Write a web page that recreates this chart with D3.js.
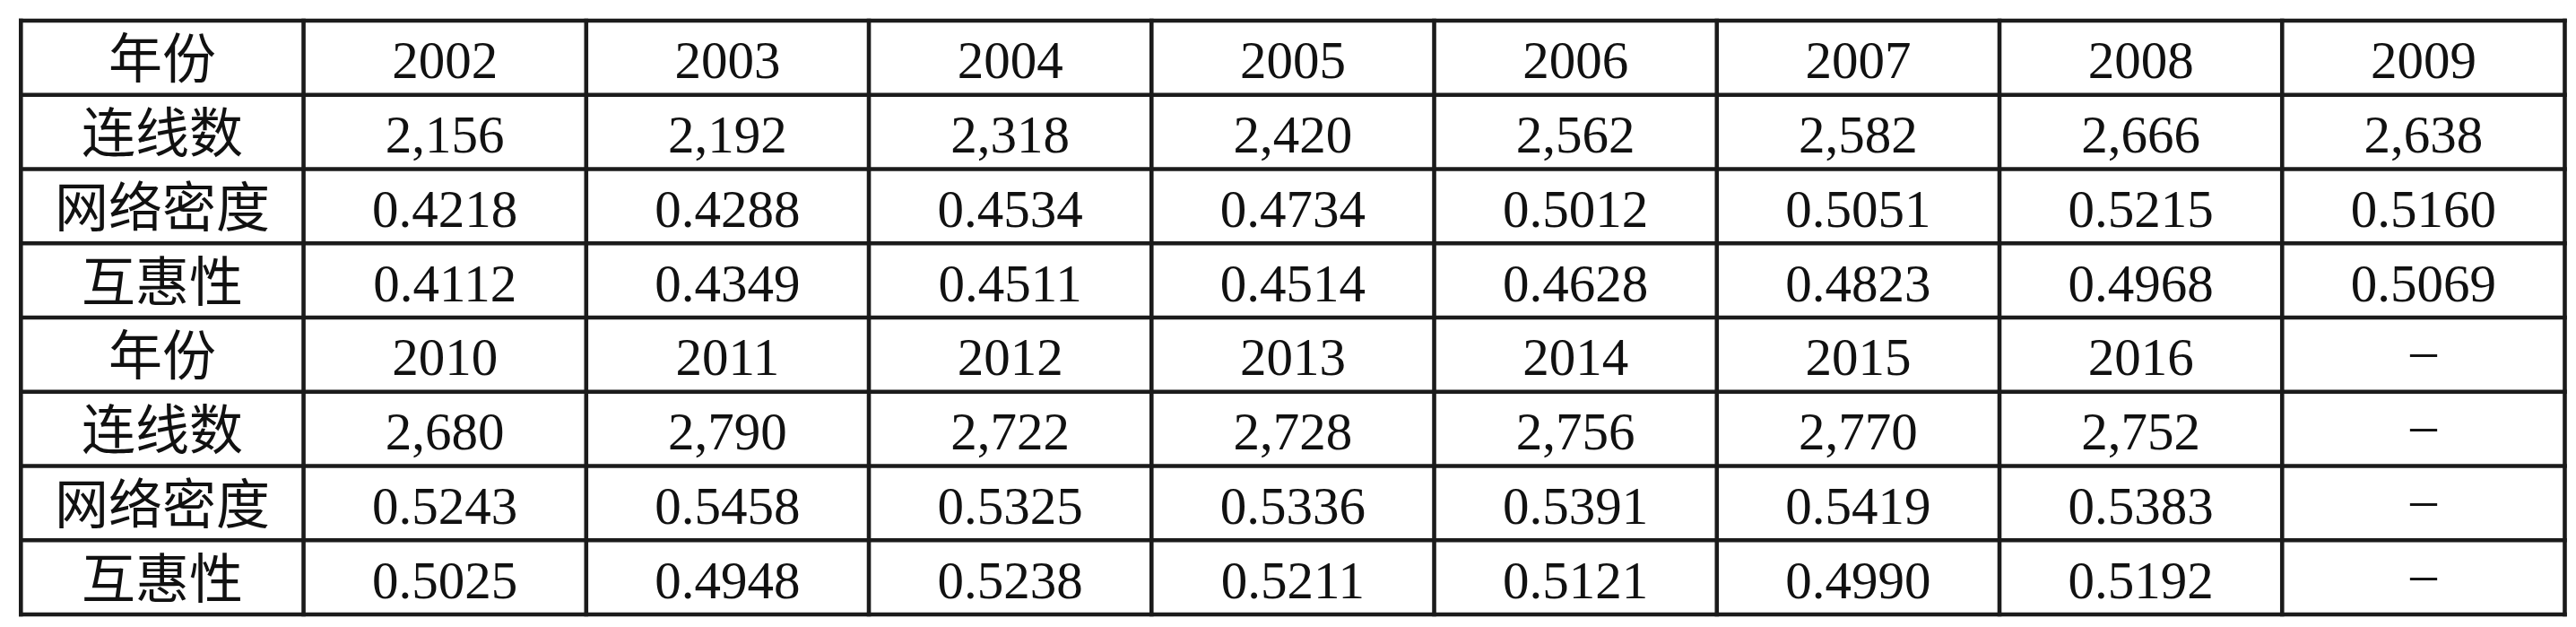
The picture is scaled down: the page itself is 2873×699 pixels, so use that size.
<!DOCTYPE html>
<html>
<head>
<meta charset="utf-8">
<script src="https://cdn.jsdelivr.net/npm/d3@7"></script>
<style>
  html, body { margin: 0; padding: 0; background: #fff; }
  svg { display: block; }
</style>
</head>
<body>
<svg id="chart" width="2873" height="699"></svg>
<script>
// ---- Data ----
const rowLabels = ["年份", "连线数", "网络密度", "互惠性"];
const years = [2002, 2003, 2004, 2005, 2006, 2007, 2008, 2009, 2010, 2011, 2012, 2013, 2014, 2015, 2016];
const links = [2156, 2192, 2318, 2420, 2562, 2582, 2666, 2638, 2680, 2790, 2722, 2728, 2756, 2770, 2752];
const density = [0.4218, 0.4288, 0.4534, 0.4734, 0.5012, 0.5051, 0.5215, 0.5160, 0.5243, 0.5458, 0.5325, 0.5336, 0.5391, 0.5419, 0.5383];
const reciprocity = [0.4112, 0.4349, 0.4511, 0.4514, 0.4628, 0.4823, 0.4968, 0.5069, 0.5025, 0.4948, 0.5238, 0.5211, 0.5121, 0.4990, 0.5192];
const perBlock = 8;
const missingMark = "–";

(function () {
// ---- Build table ----
const fmtLinks = d3.format(",");
const fmtRatio = d3.format(".4f");
const series = [
  years.map(String),
  links.map(fmtLinks),
  density.map(fmtRatio),
  reciprocity.map(fmtRatio)
];
const nBlocks = Math.ceil(years.length / perBlock);
const rows = [];
for (let b = 0; b < nBlocks; b++) {
  series.forEach((s, si) => {
    const cells = [];
    for (let k = 0; k < perBlock; k++) {
      const idx = b * perBlock + k;
      cells.push(idx < s.length ? s[idx] : missingMark);
    }
    rows.push({ label: rowLabels[si], cells });
  });
}

const svg = d3.select("#chart");
const xL = 23.3, xR = 2860.5, yT = 23, yB = 685;
const nCols = perBlock + 1;

const x = d3.scaleBand().domain(d3.range(nCols)).range([xL, xR]).padding(0);
const y = d3.scaleBand().domain(d3.range(rows.length)).range([yT, yB]).padding(0);

const lineColor = "#1b1b1b";
const lw = 4.6;

const g = svg.append("g");

const rowG = g.selectAll("g.row").data(rows).join("g")
  .attr("class", "row")
  .attr("transform", (d, i) => `translate(0,${y(i) + y.bandwidth() / 2})`);

rowG.append("text")
  .attr("x", x(0) + x.bandwidth() / 2)
  .attr("y", 23)
  .attr("text-anchor", "middle")
  .attr("font-family", "'Noto Sans CJK SC', sans-serif")
  .attr("font-size", 60)
  .attr("font-weight", 400)
  .attr("fill", "#111")
  .text(d => d.label);

rowG.selectAll("text.val").data(d => d.cells).join("text")
  .attr("class", "val")
  .attr("x", (d, i) => x(i + 1) + x.bandwidth() / 2)
  .attr("y", d => d === missingMark ? 15 : 23)
  .attr("text-anchor", "middle")
  .attr("font-family", "'Liberation Serif', 'DejaVu Serif', serif")
  .attr("font-size", 59)
  .attr("fill", "#111")
  .text(d => d);

const hY = d3.range(rows.length + 1).map(i => i < rows.length ? y(i) : yB);
const vX = d3.range(nCols + 1).map(i => i < nCols ? x(i) : xR);

g.selectAll("line.h").data(hY).join("line")
  .attr("class", "h")
  .attr("x1", xL - lw / 2).attr("x2", xR + lw / 2)
  .attr("y1", d => d).attr("y2", d => d)
  .attr("stroke", lineColor).attr("stroke-width", lw);

g.selectAll("line.v").data(vX).join("line")
  .attr("class", "v")
  .attr("y1", yT - lw / 2).attr("y2", yB + lw / 2)
  .attr("x1", d => d).attr("x2", d => d)
  .attr("stroke", lineColor).attr("stroke-width", lw);
})();
</script>
</body>
</html>
